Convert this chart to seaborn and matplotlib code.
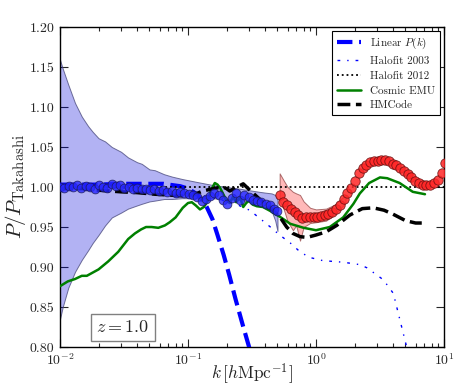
import matplotlib
matplotlib.use("Agg")
import matplotlib.pyplot as plt
from matplotlib.ticker import FormatStrFormatter
import numpy as np
import seaborn as sns

# simulation points, low k (blue) and high k (red)
k_low = [0.0100, 0.0108, 0.0117, 0.0126, 0.0136, 0.0147, 0.0159, 0.0172, 0.0186, 0.0201,
         0.0217, 0.0234, 0.0253, 0.0273, 0.0295, 0.0319, 0.0344, 0.0372, 0.0402, 0.0434,
         0.0469, 0.0506, 0.0547, 0.0591, 0.0638, 0.0689, 0.0744, 0.0804, 0.0868, 0.0938,
         0.101, 0.109, 0.118, 0.128, 0.138, 0.149, 0.161, 0.174, 0.188, 0.203,
         0.219, 0.236, 0.255, 0.276, 0.298, 0.322, 0.347, 0.375, 0.405, 0.438,
         0.473, 0.500]
r_low = [1.000, 0.999, 1.001, 1.000, 1.002, 0.999, 1.001, 1.000, 0.998, 1.003,
         1.000, 0.999, 1.004, 1.001, 1.002, 0.999, 1.000, 0.998, 0.999, 0.997,
         0.998, 0.996, 0.997, 0.995, 0.996, 0.994, 0.995, 0.993, 0.994, 0.992,
         0.991, 0.990, 0.987, 0.982, 0.985, 0.989, 0.992, 0.990, 0.984, 0.979,
         0.986, 0.992, 0.984, 0.990, 0.987, 0.984, 0.983, 0.981, 0.979, 0.977,
         0.973, 0.970]

k_high = [0.52, 0.556, 0.595, 0.637, 0.682, 0.729, 0.78, 0.835, 0.894, 0.956,
          1.02, 1.09, 1.17, 1.25, 1.34, 1.44, 1.54, 1.64, 1.76, 1.88,
          2.01, 2.16, 2.31, 2.47, 2.64, 2.83, 3.03, 3.24, 3.46, 3.71,
          3.97, 4.24, 4.54, 4.86, 5.2, 5.56, 5.95, 6.37, 6.81, 7.29,
          7.8, 8.35, 8.93, 9.56, 10.1]
r_high = [0.990, 0.981, 0.977, 0.973, 0.969, 0.965, 0.961, 0.962, 0.963, 0.963,
          0.963, 0.964, 0.965, 0.966, 0.969, 0.973, 0.978, 0.985, 0.992, 0.999,
          1.008, 1.017, 1.024, 1.028, 1.031, 1.032, 1.033, 1.034, 1.034, 1.032,
          1.029, 1.027, 1.024, 1.020, 1.016, 1.012, 1.008, 1.005, 1.003, 1.002,
          1.002, 1.005, 1.009, 1.017, 1.030]

# error bands
k_band_low = [0.0100, 0.0105, 0.0116, 0.0131, 0.0148, 0.0166, 0.0180, 0.0200, 0.0225, 0.0254,
              0.0300, 0.0340, 0.0400, 0.0435, 0.0500, 0.0550, 0.0650, 0.0750, 0.0900, 0.120,
              0.150, 0.200, 0.250, 0.300, 0.360, 0.400, 0.450, 0.480, 0.500]
lo_band_low = [0.835, 0.850, 0.874, 0.894, 0.909, 0.921, 0.930, 0.940, 0.952, 0.962,
               0.968, 0.973, 0.977, 0.979, 0.982, 0.983, 0.985, 0.985, 0.986, 0.986,
               0.986, 0.985, 0.984, 0.982, 0.979, 0.977, 0.970, 0.958, 0.945]
hi_band_low = [1.159, 1.148, 1.128, 1.105, 1.088, 1.076, 1.069, 1.061, 1.057, 1.050,
               1.044, 1.037, 1.031, 1.029, 1.022, 1.021, 1.016, 1.013, 1.010, 1.006,
               1.003, 1.000, 0.998, 0.996, 0.994, 0.993, 0.992, 0.990, 0.985]

k_band_high = [0.52, 0.56, 0.60, 0.66, 0.70, 0.75, 0.80, 0.90, 1.00, 1.20, 1.40, 1.70]
lo_band_high = [0.983, 0.972, 0.957, 0.946, 0.952, 0.933, 0.950, 0.955, 0.956, 0.958, 0.966, 0.980]
hi_band_high = [1.017, 1.008, 1.000, 0.994, 0.992, 0.990, 0.982, 0.974, 0.972, 0.973, 0.978, 0.990]

# model curves
k_lin = [0.0100, 0.0200, 0.0300, 0.0500, 0.0640, 0.0870, 0.100, 0.115, 0.130, 0.140,
         0.155, 0.170, 0.190, 0.210, 0.235, 0.265, 0.300, 0.320]
r_lin = [1.003, 1.003, 1.004, 1.004, 1.004, 1.001, 0.998, 0.992, 0.983, 0.975,
         0.960, 0.940, 0.915, 0.890, 0.860, 0.830, 0.800, 0.785]

k_hf03 = [0.0100, 0.0300, 0.0500, 0.100, 0.150, 0.200, 0.250, 0.303, 0.363, 0.440,
          0.520, 0.630, 0.750, 0.890, 1.13, 1.63, 2.20, 2.50, 3.36, 4.02, 4.67, 5.20]
r_hf03 = [1.000, 0.999, 0.997, 0.992, 0.987, 0.982, 0.977, 0.971, 0.961, 0.950,
          0.940, 0.930, 0.919, 0.912, 0.908, 0.906, 0.903, 0.899, 0.884, 0.867, 0.825, 0.795]

k_hf12 = [0.01, 10.0]
r_hf12 = [1.0, 1.0]

k_emu = [0.0100, 0.0115, 0.0131, 0.0148, 0.0162, 0.0180, 0.0200, 0.0238, 0.0285, 0.0341,
         0.0385, 0.0430, 0.0470, 0.0520, 0.0586, 0.0660, 0.0720, 0.0800, 0.0910, 0.100,
         0.107, 0.115, 0.124, 0.133, 0.142, 0.152, 0.162, 0.170, 0.178, 0.190,
         0.200, 0.212, 0.225, 0.238, 0.255, 0.270, 0.285, 0.300, 0.320, 0.345,
         0.385, 0.440, 0.520, 0.630, 0.800, 1.00, 1.28, 1.63, 1.96, 2.20,
         2.60, 3.16, 3.60, 4.50, 5.70, 7.10]
r_emu = [0.876, 0.882, 0.885, 0.889, 0.889, 0.893, 0.897, 0.907, 0.919, 0.935,
         0.942, 0.947, 0.950, 0.950, 0.949, 0.952, 0.956, 0.962, 0.974, 0.980,
         0.981, 0.977, 0.972, 0.975, 0.982, 0.997, 1.005, 1.003, 0.999, 0.990,
         0.983, 0.980, 0.988, 0.981, 0.987, 0.975, 0.980, 0.983, 0.978, 0.976,
         0.975, 0.970, 0.963, 0.954, 0.949, 0.946, 0.950, 0.962, 0.979, 0.992,
         1.005, 1.012, 1.011, 1.005, 0.994, 0.991]

k_hm = [0.0100, 0.0150, 0.0200, 0.0300, 0.0400, 0.0550, 0.0700, 0.0900, 0.110, 0.130,
        0.148, 0.170, 0.188, 0.200, 0.212, 0.235, 0.270, 0.300, 0.345, 0.380,
        0.440, 0.520, 0.590, 0.660, 0.750, 0.850, 1.00, 1.20, 1.45, 1.84,
        2.30, 2.80, 3.40, 4.00, 5.00, 6.00, 6.70]
r_hm = [0.998, 0.998, 0.996, 0.994, 0.993, 0.991, 0.990, 0.989, 0.990, 0.995,
        0.997, 0.999, 1.000, 0.998, 0.995, 0.999, 1.004, 0.997, 0.988, 0.982,
        0.974, 0.963, 0.950, 0.942, 0.938, 0.937, 0.940, 0.944, 0.952, 0.965,
        0.973, 0.974, 0.971, 0.966, 0.958, 0.955, 0.955]

sns.set_style("ticks")
plt.rcParams["font.family"] = "serif"
plt.rcParams["font.serif"] = ["cmr10"]
plt.rcParams["mathtext.fontset"] = "cm"
plt.rcParams["axes.formatter.use_mathtext"] = True
plt.rcParams["axes.unicode_minus"] = False

fig = plt.figure(figsize=(4.63, 3.86), dpi=100)
ax = fig.add_axes([0.1296, 0.101, 0.8294, 0.829])

# bands
ax.fill_between(k_band_low, lo_band_low, hi_band_low, facecolor=(0.0, 0.0, 0.85, 0.3),
                edgecolor=(0.3, 0.3, 0.5, 0.8), lw=0.7, zorder=1)
ax.fill_between(k_band_high, lo_band_high, hi_band_high, facecolor=(1.0, 0.1, 0.1, 0.3),
                edgecolor=(0.6, 0.3, 0.3, 0.8), lw=0.7, zorder=1)

# models
sns.lineplot(x=k_lin, y=r_lin, ax=ax, color="b", lw=3, linestyle="--",
             label=r"Linear $P(k)$", sort=False, zorder=3)
sns.lineplot(x=k_hf03, y=r_hf03, ax=ax, color="b", lw=1, linestyle=(0, (2, 5, 1, 5)),
             label="Halofit 2003", sort=False, zorder=3)
sns.lineplot(x=k_hf12, y=r_hf12, ax=ax, color="k", lw=1.3, linestyle=":",
             label="Halofit 2012", sort=False, zorder=3)
sns.lineplot(x=k_emu, y=r_emu, ax=ax, color="g", lw=1.8, linestyle="-",
             label="Cosmic EMU", sort=False, zorder=3)
sns.lineplot(x=k_hm, y=r_hm, ax=ax, color="k", lw=2.5, linestyle="--",
             label="HMCode", sort=False, zorder=3)

# simulation points
sns.scatterplot(x=k_low, y=r_low, ax=ax, color=(0.15, 0.15, 1.0), alpha=0.8,
                edgecolor=(0.1, 0.1, 0.35), linewidth=0.6, s=40, legend=False, zorder=4)
sns.scatterplot(x=k_high, y=r_high, ax=ax, color=(1.0, 0.15, 0.15), alpha=0.85,
                edgecolor=(0.4, 0.05, 0.05), linewidth=0.6, s=46, legend=False, zorder=4)

ax.set_xscale("log")
ax.set_xlim(0.01, 10)
ax.set_ylim(0.80, 1.20)
ax.set_yticks(np.arange(0.80, 1.2001, 0.05))
ax.yaxis.set_major_formatter(FormatStrFormatter("%.2f"))
ax.tick_params(which="both", direction="in", top=True, right=True, labelsize=10, width=0.8)
ax.tick_params(which="major", length=6)
ax.tick_params(which="minor", length=3)
ax.tick_params(axis="x", pad=4)
ax.tick_params(axis="y", pad=4)
for sp in ax.spines.values():
    sp.set_linewidth(1.0)
    sp.set_color("k")

ax.set_xlabel(r"$k\,[h{\rm Mpc}^{-1}]$", fontsize=12.5, labelpad=-5)
ax.set_ylabel(r"$P/P_{\rm Takahashi}$", fontsize=15, labelpad=1)

ax.text(0.164, 0.062, r"$z=1.0$", transform=ax.transAxes, ha="center", va="center",
        fontsize=13, bbox=dict(boxstyle="square,pad=0.3", fc="white", ec="0.5", lw=1))

leg = ax.legend(loc="upper right", fontsize=8, frameon=True, fancybox=False,
                framealpha=1, edgecolor="k", handlelength=2.2, borderaxespad=0.4,
                labelspacing=0.45)
leg.get_frame().set_linewidth(0.8)

fig.savefig("out.png", dpi=100)
